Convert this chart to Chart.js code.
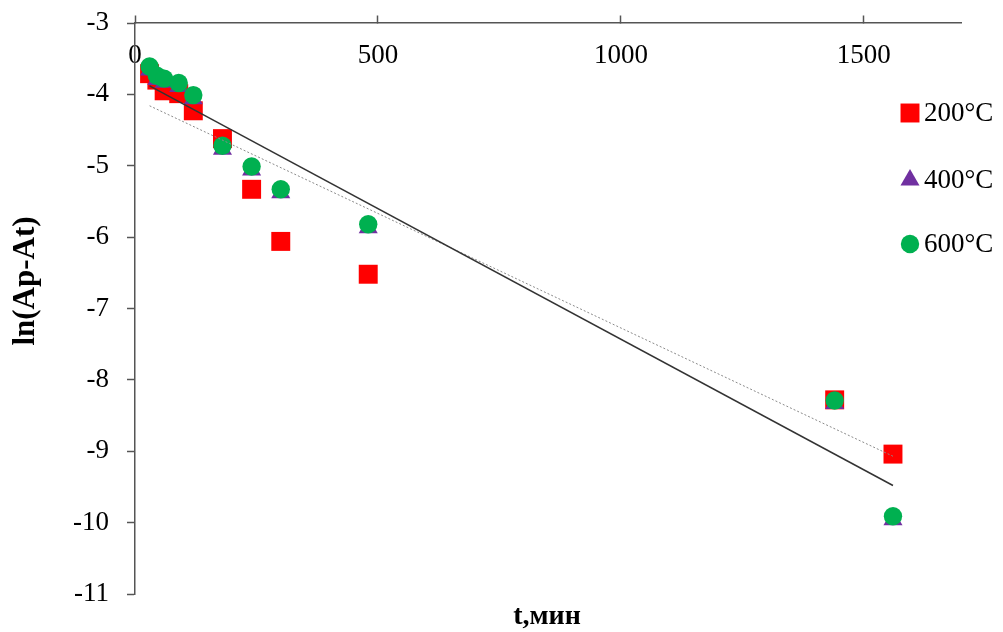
<!DOCTYPE html>
<html>
<head>
<meta charset="utf-8">
<script src="https://cdn.jsdelivr.net/npm/chart.js"></script>
<style>
  body { margin: 0; background: #fff; }
  #wrap { width: 1003px; height: 632px; position: relative; }
</style>
</head>
<body>
<div id="wrap"><canvas id="lnChart"></canvas></div>
<script>
// time, min
const times = [30, 45, 60, 90, 120, 180, 240, 300, 480, 1440, 1560];
// ln(Ap-At) per temperature
const ln200 = [-3.71, -3.80, -3.95, -3.99, -4.23, -4.62, -5.33, -6.06, -6.52, -8.28, -9.04];
const ln400 = [-3.66, -3.79, -3.83, -3.89, -4.06, -4.77, -5.06, -5.38, -5.87, -8.33, -9.96];
const ln600 = [-3.61, -3.74, -3.78, -3.84, -4.01, -4.72, -5.01, -5.33, -5.82, -8.29, -9.91];
const seriesLabels = ["200°C", "400°C", "600°C"];
// trend lines (end points)
const trendT = [30, 1560];
const trendSolid = [-3.88, -9.48];
const trendDotted = [-4.16, -9.07];

const xTicks = [0, 500, 1000, 1500];
const yTicks = [-11, -10, -9, -8, -7, -6, -5, -4, -3];

const pts = (xs, ys) => xs.map((x, i) => ({ x: x, y: ys[i] }));

const serif = "'Liberation Serif', 'Times New Roman', serif";
Chart.defaults.font.family = serif;
Chart.defaults.font.size = 27;
Chart.defaults.color = "#000";

// legend inside the plot + axis titles
const extras = {
  id: "extras",
  afterDraw(chart) {
    const ctx = chart.ctx;
    ctx.save();
    const rows = [113, 180, 244];
    chart.data.datasets.slice(0, 3).forEach((ds, i) => {
      ctx.fillStyle = ds.backgroundColor;
      Chart.helpers.drawPoint(ctx, { pointStyle: ds.pointStyle, radius: ds.pointRadius, rotation: 0, borderWidth: 0 }, 910, rows[i]);
      ctx.fillStyle = "#000";
      ctx.font = "27px " + serif;
      ctx.textAlign = "left";
      ctx.textBaseline = "middle";
      ctx.fillText(ds.label, 924, rows[i] + 1);
    });
    ctx.font = "bold 28px " + serif;
    ctx.textAlign = "center";
    ctx.textBaseline = "alphabetic";
    ctx.fillText("t,мин", 547, 624);
    ctx.translate(34, 281);
    ctx.rotate(-Math.PI / 2);
    ctx.font = "bold 31px " + serif;
    ctx.fillText("ln(Ap-At)", 0, 0);
    ctx.restore();
  }
};

new Chart(document.getElementById("lnChart"), {
  type: "scatter",
  data: {
    datasets: [
      { label: seriesLabels[0], data: pts(times, ln200), backgroundColor: "#ff0000", borderWidth: 0, pointStyle: "rect", pointRadius: 13.4, order: 3 },
      { label: seriesLabels[1], data: pts(times, ln400), backgroundColor: "#7030a0", borderWidth: 0, pointStyle: "triangle", pointRadius: 11, order: 2 },
      { label: seriesLabels[2], data: pts(times, ln600), backgroundColor: "#00b050", borderWidth: 0, pointStyle: "circle", pointRadius: 9.2, order: 1 },
      { label: "trend", data: pts(trendT, trendSolid), showLine: true, borderColor: "#333", borderWidth: 1.5, pointRadius: 0, order: 0 },
      { label: "trend2", data: pts(trendT, trendDotted), showLine: true, borderColor: "#8a8a8a", borderWidth: 1, borderDash: [2, 2], pointRadius: 0, order: 0 }
    ]
  },
  options: {
    responsive: true,
    maintainAspectRatio: false,
    animation: false,
    layout: { padding: { left: 0, top: 23, right: 42, bottom: 38 } },
    plugins: { legend: { display: false }, tooltip: { enabled: false } },
    scales: {
      x: {
        type: "linear",
        position: { y: -3 },
        min: 0,
        max: 1700,
        afterBuildTicks: (s) => { s.ticks = xTicks.map(v => ({ value: v })); },
        ticks: { padding: 25, includeBounds: false, callback: (v) => String(v) },
        grid: { drawOnChartArea: false, tickLength: -8, color: "#555", tickWidth: 1.5 },
        border: { color: "#555", width: 1.5 }
      },
      y: {
        position: "left",
        min: -11,
        max: -3,
        afterBuildTicks: (s) => { s.ticks = yTicks.map(v => ({ value: v })); },
        afterFit: (s) => { s.width = 135; s.paddingTop = 0; s.paddingBottom = 0; },
        ticks: { padding: 18, callback: (v) => String(v) },
        grid: { drawOnChartArea: false, tickLength: 8, color: "#555", tickWidth: 1.5 },
        border: { color: "#555", width: 1.5 }
      }
    }
  },
  plugins: [extras]
});
</script>
</body>
</html>
